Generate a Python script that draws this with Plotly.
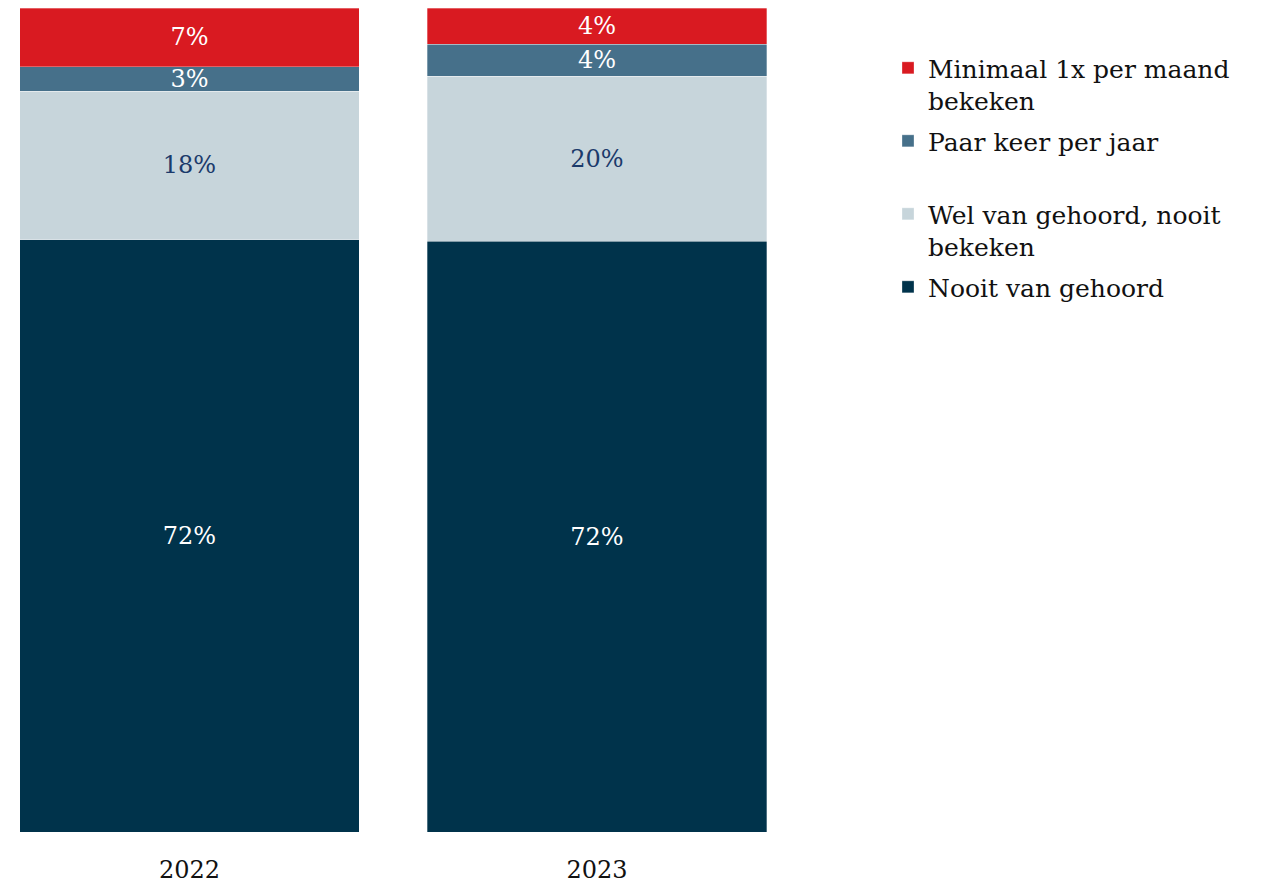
import plotly.graph_objects as go

years = ["2022", "2023"]
series_names = [
    "Nooit van gehoord",
    "Wel van gehoord, nooit<br>bekeken",
    "Paar keer per jaar<br> ",
    "Minimaal 1x per maand<br>bekeken",
]
nooit = [71.9, 71.7]
wel = [18.0, 20.0]
paar = [3.0, 3.9]
minimaal = [7.1, 4.4]

colors = ["#00334B", "#C7D5DB", "#46708A", "#D91A21"]
text_colors = ["#FFFFFF", "#1B3A6B", "#FFFFFF", "#FFFFFF"]
values = [nooit, wel, paar, minimaal]

FONT = "DejaVu Serif"

fig = go.Figure()
n = len(series_names)
for i, (name, vals, col, tcol) in enumerate(zip(series_names, values, colors, text_colors)):
    fig.add_trace(go.Bar(
        x=years, y=vals, name=name,
        legendgroup="g%d" % i,
        legendrank=n - i,
        marker=dict(color=col, line=dict(color="rgba(255,255,255,0.6)", width=0.5)),
        width=0.832,
        texttemplate="%{y:.0f}%",
        textposition="inside",
        insidetextanchor="middle",
        constraintext="none",
        textangle=0,
        textfont=dict(family=FONT, size=24, color=tcol),
        hoverinfo="skip",
    ))

fig.update_layout(
    barmode="stack",
    width=1253, height=877,
    margin=dict(l=0, r=453, t=0, b=53),
    paper_bgcolor="white", plot_bgcolor="white",
    font=dict(family=FONT, size=24, color="#111111"),
    showlegend=True,
    legend=dict(
        traceorder="grouped",
        x=1.1, xanchor="left",
        y=0.955, yanchor="top",
        valign="top",
        font=dict(family=FONT, size=25, color="#111111"),
        itemwidth=30,
        tracegroupgap=5,
        bgcolor="rgba(0,0,0,0)",
    ),
    xaxis=dict(
        range=[-0.4454, 1.5178],
        showgrid=False, zeroline=False, showline=False,
        ticks="outside", ticklen=16, tickcolor="rgba(0,0,0,0)",
        tickfont=dict(family=FONT, size=24, color="#111111"),
    ),
    yaxis=dict(range=[0, 100], visible=False, showgrid=False, zeroline=False),
)

fig.write_html("out.html")
